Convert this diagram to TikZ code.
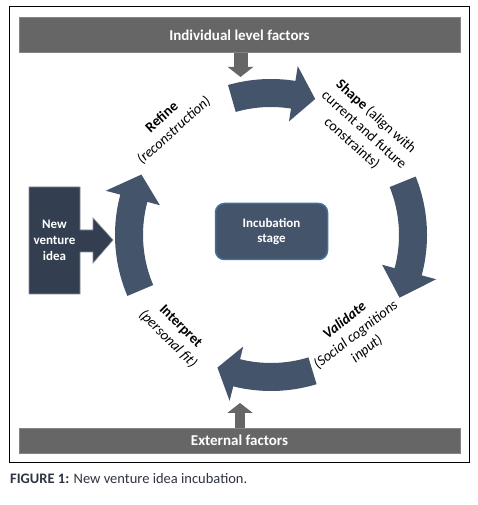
\documentclass[tikz,border=0pt]{standalone}
\usepackage{fontspec}
\setmainfont{Carlito}
\usetikzlibrary{arrows.meta}
\definecolor{arrowc}{HTML}{44546A}
\definecolor{barc}{HTML}{666666}
\definecolor{nvc}{HTML}{333F50}
\definecolor{incborder}{HTML}{41719C}
\definecolor{capc}{HTML}{2E3440}
\newcommand{\cycarrow}[3]{%
  \fill[arrowc, shift={(271,270)}] (#1:156) arc[start angle=#1, end angle=#2, radius=156]
    -- (#2:171) -- (#3:143) -- (#2:115) -- (#2:128)
    arc[start angle=#2, end angle=#1, radius=128] -- cycle;}
\tikzset{
  barbox/.style={fill=barc, draw=barc!80!white, line width=0.6pt, text=white,
    font=\fontsize{15}{18}\selectfont\bfseries, inner sep=0pt, minimum width=441pt},
  lbl/.style={align=center, font=\fontsize{14.5}{18}\selectfont, text=black, inner sep=1pt},
  smallarrow/.style={barc, line width=14pt, -{Triangle[width=25pt,length=10pt]}}
}
\begin{document}
\begin{tikzpicture}[x=1pt,y=1pt]
\useasboundingbox (0,0) rectangle (478,505);
\fill[white] (0,0) rectangle (478,505);
\draw[line width=1pt] (9,42) rectangle (469,498);

\node[barbox, minimum height=35pt] (top) at (239.5,470) {Individual level factors};
\node[barbox, minimum height=25pt] (bottom) at (239.5,64.5) {External factors};

\coordinate (ttip) at (240.5,428);
\draw[smallarrow] (top.south -| ttip) -- (ttip);
\coordinate (btip) at (240,102);
\draw[smallarrow, line width=10pt] (bottom.north -| btip) -- (btip);

\cycarrow{106}{81}{72}
\cycarrow{22}{-15}{-26}
\cycarrow{-73}{-104}{-112}
\cycarrow{203}{165}{155}

\node[fill=arrowc, draw=incborder, line width=1.5pt, rounded corners=9pt,
  minimum width=112pt, minimum height=56pt, text=white, align=center,
  font=\fontsize{13}{15}\selectfont\bfseries] (inc) at (271.5,273.5) {Incubation\\stage};

\fill[nvc, draw=nvc!60!white, line width=0.6pt] (29,318) -- (80,318) -- (80,275) -- (93,275)
  -- (93,287) -- (113,265) -- (93,242) -- (93,253) -- (80,253) -- (80,211) -- (29,211) -- cycle;
\node[text=white, align=center, font=\fontsize{13}{16}\selectfont\bfseries] (nvi) at (54.5,265) {New\\venture\\idea};

\node[lbl, rotate=42] (refine) at (168,381) {\textbf{Refine}\\\textit{(reconstruction)}};
\node[lbl, rotate=-42] (shape) at (364,375) {\textbf{Shape} (align with\\current and future\\constraints)};
\node[lbl, rotate=38, font=\fontsize{14.5}{18}\selectfont\itshape] (validate) at (356,170) {\textbf{Validate}\\(Social cognitions\\input)};
\node[lbl, rotate=-45] (interpret) at (174,172) {\textbf{Interpret}\\\textit{(personal fit)}};

\node[anchor=west, inner sep=0pt, text=capc, font=\fontsize{14.5}{17}\selectfont] (cap) at (10,26) {\textbf{FIGURE 1:} New venture idea incubation.};
\end{tikzpicture}
\end{document}
